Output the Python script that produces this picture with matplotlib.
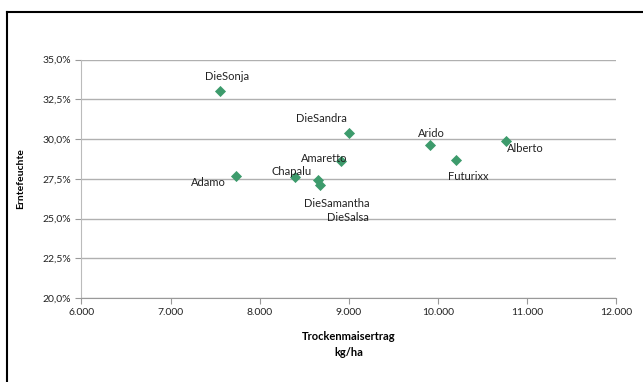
import matplotlib
matplotlib.use("Agg")
import matplotlib.pyplot as plt
from matplotlib.lines import Line2D
from matplotlib.ticker import FuncFormatter

# Sorten: Trockenmaisertrag (kg/ha) vs. Erntefeuchte (%)
sorten = ['DieSonja', 'DieSandra', 'Amaretto', 'Adamo', 'Chapalu',
          'DieSamantha', 'DieSalsa', 'Arido', 'Futurixx', 'Alberto']
ertrag = [7560, 9000, 8910, 7730, 8400, 8660, 8680, 9910, 10200, 10760]
feuchte = [33.0, 30.4, 28.6, 27.7, 27.6, 27.4, 27.1, 29.6, 28.7, 29.9]
# label offsets in pixels
offsets = [(7, 15), (-27, 14), (-16, 3), (-27, -7), (-4, 6),
           (18, -23), (28, -32), (2, 12), (13, -17), (20, -8)]

plt.rcParams['font.family'] = ['Lato', 'DejaVu Sans']

fig = plt.figure(figsize=(6.43, 3.82), dpi=100)
ax = fig.add_axes([0.1267, 0.2199, 0.8313, 0.6243])

ax.scatter(ertrag, feuchte, marker='D', s=32, color='#3d9b6c', zorder=3, linewidths=0)
for name, x, y, off in zip(sorten, ertrag, feuchte, offsets):
    ax.annotate(name, (x, y), xytext=off, textcoords='offset pixels',
                ha='center', va='center', fontsize=8, color='#222222')

ax.set_xlim(6000, 12000)
ax.set_ylim(20, 35)
ax.set_xticks(range(6000, 12001, 1000))
ax.set_yticks([20, 22.5, 25, 27.5, 30, 32.5, 35])
ax.xaxis.set_major_formatter(FuncFormatter(lambda v, p: f"{int(v):,}".replace(',', '.')))
ax.yaxis.set_major_formatter(FuncFormatter(lambda v, p: f"{v:.1f}%".replace('.', ',')))
ax.tick_params(labelsize=7.5, colors='#222222', length=4, color='#999999')
ax.grid(axis='y', color='#b0b0b0', linewidth=1)
ax.set_axisbelow(True)
for s in ['top', 'right']:
    ax.spines[s].set_visible(False)
ax.spines['left'].set_color('#bbbbbb')
ax.spines['bottom'].set_color('#999999')

ax.set_ylabel('Erntefeuchte', fontsize=7.5, fontweight='bold')
ax.yaxis.set_label_coords(-0.106, 0.5)
ax.set_xlabel('Trockenmaisertrag\nkg/ha', fontsize=8, fontweight='bold', linespacing=1.5)
ax.xaxis.set_label_coords(0.5, -0.14)

# chart frame (only top and left edges visible)
fig.add_artist(Line2D([0.011, 0.011], [0.0, 0.969], color='black', linewidth=1.5))
fig.add_artist(Line2D([0.011, 1.0], [0.969, 0.969], color='black', linewidth=1.5))

fig.savefig('out.png', dpi=100)
